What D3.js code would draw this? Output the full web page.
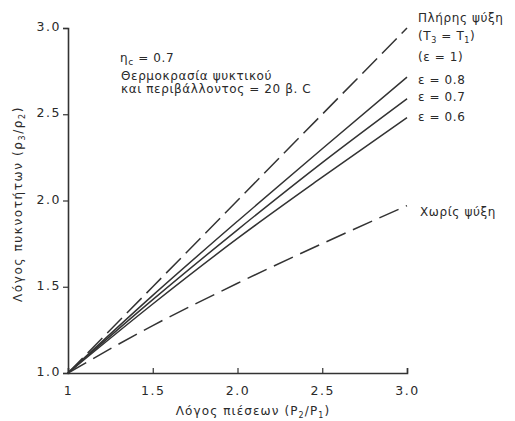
<!DOCTYPE html>
<html><head><meta charset="utf-8">
<script src="https://cdn.jsdelivr.net/npm/d3@7"></script>
<style>body{margin:0;background:#fff}svg{display:block}text{font-family:"DejaVu Sans",sans-serif;fill:#2a2a2a}</style>
</head><body>
<svg id="c" width="515" height="421"></svg>
<script>
const pressureRatio = [1, 1.5, 2, 2.5, 3];
const fullCooling = [1, 1.5, 2, 2.5, 3.0];
const eps08 = [1, 1.45, 1.88, 2.30, 2.715];
const eps07 = [1, 1.425, 1.83, 2.22, 2.59];
const eps06 = [1, 1.40, 1.78, 2.135, 2.48];
const noCooling = [1, 1.275, 1.52, 1.75, 1.97];
const xTicks = [1, 1.5, 2, 2.5, 3];
const xTickLabels = ["1", "1.5", "2.0", "2.5", "3.0"];
const yTicks = [1, 1.5, 2, 2.5, 3];
const yTickLabels = ["1.0", "1.5", "2.0", "2.5", "3.0"];

const svg = d3.select("#c");
const x = d3.scaleLinear().domain([1, 3]).range([68, 407]);
const y = d3.scaleLinear().domain([1, 3]).range([373, 28]);

// axes
const xAxis = d3.axisBottom(x).tickValues(xTicks).tickSize(-5).tickFormat((d,i)=>xTickLabels[i]).tickPadding(13);
const gx = svg.append("g").attr("transform", `translate(0,${y(1)})`).call(xAxis);
const yAxis = d3.axisLeft(y).tickValues(yTicks).tickSize(5).tickFormat((d,i)=>yTickLabels[i]).tickPadding(2);
const gy = svg.append("g").attr("transform", `translate(${x(1)},0)`).call(yAxis);
[gx, gy].forEach(g => {
  g.select(".domain").attr("stroke", "#333").attr("stroke-width", 1.6);
  g.selectAll(".tick line").attr("stroke", "#333").attr("stroke-width", 1.2);
  g.selectAll(".tick text").attr("font-size", 12.5).attr("fill", "#2a2a2a")
    .style("font-family", "DejaVu Sans, sans-serif").style("letter-spacing", "1.5px");
});
gy.selectAll(".tick text").attr("dy", "0.2em");

const line = d3.line().x((d,i)=>x(pressureRatio[i])).y(d=>y(d)).curve(d3.curveMonotoneX);
const series = [
  {v: fullCooling, dash: "21,7"},
  {v: eps08, dash: null},
  {v: eps07, dash: null},
  {v: eps06, dash: null},
  {v: noCooling, dash: "21,8"}
];
series.forEach(s => {
  svg.append("path").attr("d", line(s.v)).attr("fill", "none")
    .attr("stroke", "#333").attr("stroke-width", 1.5)
    .attr("stroke-dasharray", s.dash);
});

const fs = 12, ls = "0.6px";
function txt(xp, yp) {
  return svg.append("text").attr("x", xp).attr("y", yp).attr("font-size", fs).style("letter-spacing", ls);
}
// annotations
const t1 = txt(120, 62);
t1.append("tspan").text("η");
t1.append("tspan").attr("font-size", 9).attr("dy", 3).text("c");
t1.append("tspan").attr("dy", -3).text(" = 0.7");
txt(121, 80).text("Θερμοκρασία ψυκτικού");
txt(121, 93).text("και περιβάλλοντος = 20 β. C");

const lx = 418;
txt(lx, 22).text("Πλήρης ψύξη");
const tt = txt(lx, 40);
tt.append("tspan").text("(T");
tt.append("tspan").attr("font-size", 8).attr("dy", 3).text("3");
tt.append("tspan").attr("dy", -3).text(" = T");
tt.append("tspan").attr("font-size", 8).attr("dy", 3).text("1");
tt.append("tspan").attr("dy", -3).text(")");
txt(lx, 61).text("(ε = 1)");
txt(lx, 84).text("ε = 0.8");
txt(lx, 101).text("ε = 0.7");
txt(lx, 121).text("ε = 0.6");
txt(420, 216).text("Χωρίς ψύξη");

// axis titles
const xt = svg.append("text").attr("x", 253).attr("y", 415).attr("font-size", 12)
  .style("letter-spacing", "1.1px").attr("text-anchor", "middle");
xt.append("tspan").text("Λόγος πιέσεων  (P");
xt.append("tspan").attr("font-size", 8).attr("dy", 3).text("2");
xt.append("tspan").attr("dy", -3).text("/P");
xt.append("tspan").attr("font-size", 8).attr("dy", 3).text("1");
xt.append("tspan").attr("dy", -3).text(")");

const yt = svg.append("text").attr("transform", "translate(22,204) rotate(-90)").attr("font-size", 12)
  .style("letter-spacing", "1.6px").attr("text-anchor", "middle");
yt.append("tspan").text("Λόγος πυκνοτήτων  (ρ");
yt.append("tspan").attr("font-size", 8).attr("dy", 3).text("3");
yt.append("tspan").attr("dy", -3).text("/ρ");
yt.append("tspan").attr("font-size", 8).attr("dy", 3).text("2");
yt.append("tspan").attr("dy", -3).text(")");
</script>
</body></html>
